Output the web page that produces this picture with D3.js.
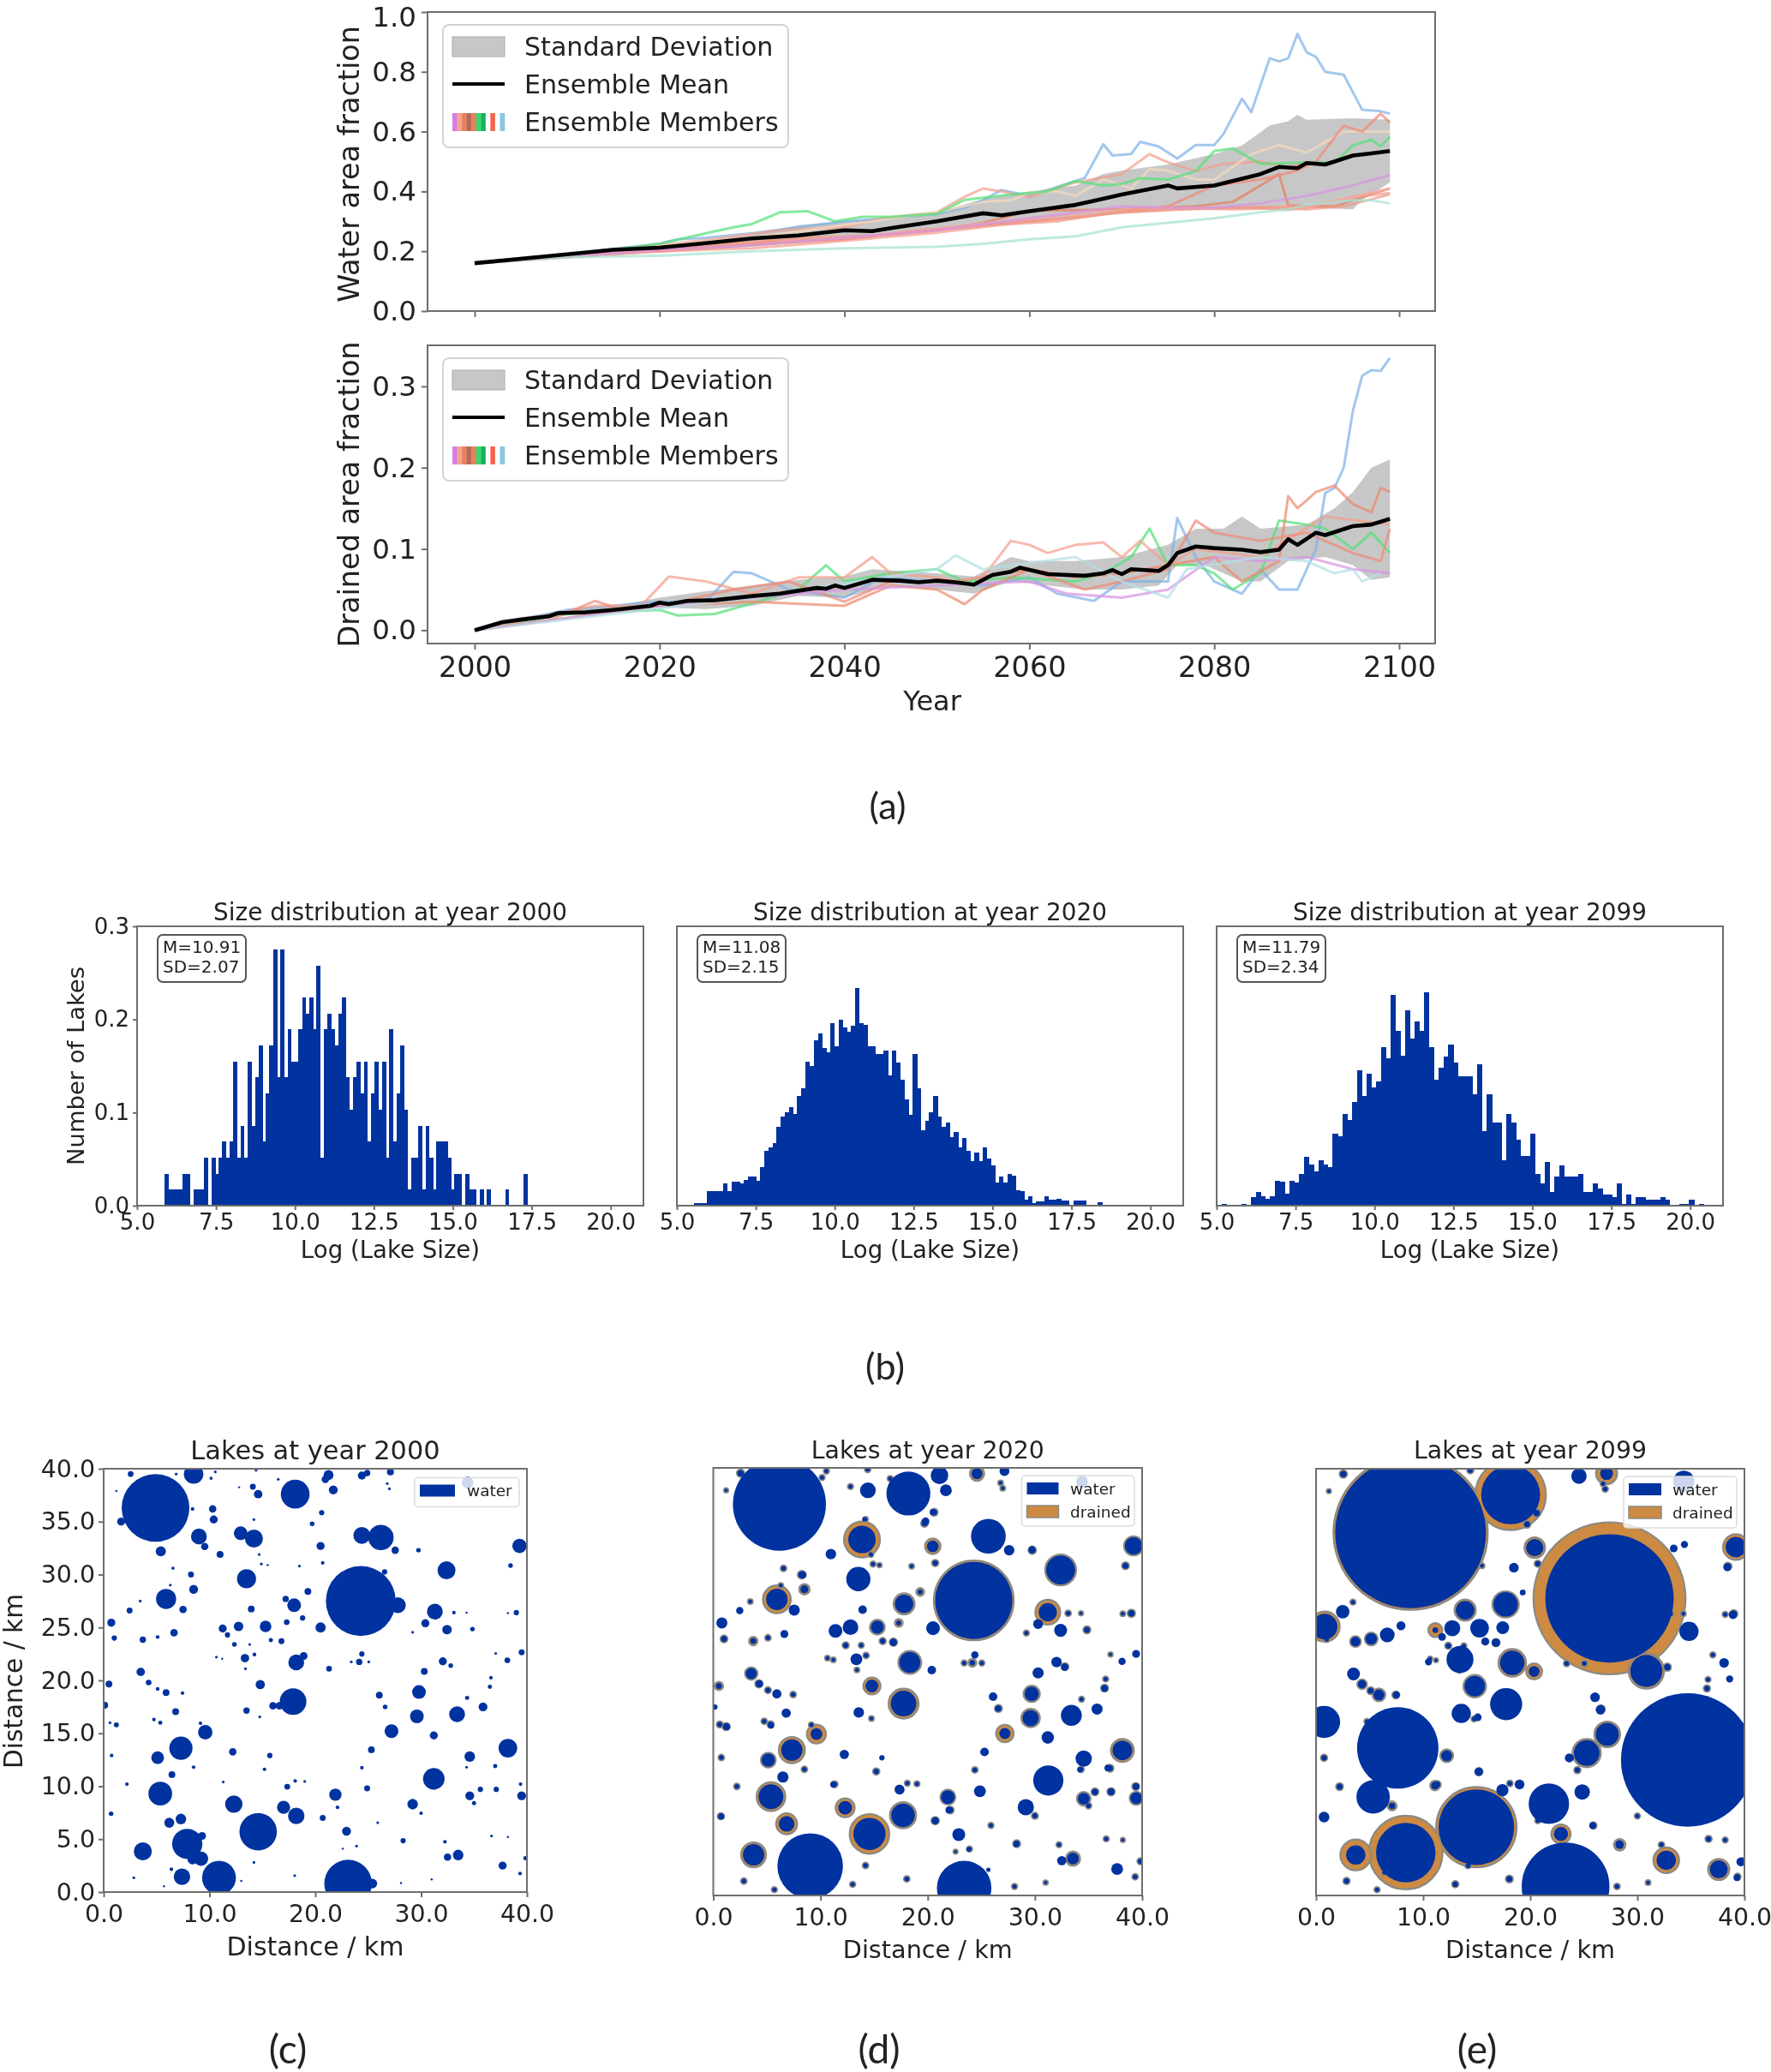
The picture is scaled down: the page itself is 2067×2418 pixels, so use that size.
<!DOCTYPE html>
<html><head><meta charset="utf-8"><title>Lake ensemble</title>
<script src="https://cdn.jsdelivr.net/npm/d3@7/dist/d3.min.js"></script>
<style>html,body{margin:0;background:#fff}svg{display:block}text{font-family:"DejaVu Sans",sans-serif;fill:#222}</style>
</head><body><svg id="c" width="2067" height="2418"></svg>
<script>
// ---------- panel (a) data: [year, value]
const waterMean=[[2000,.16],[2005,.175],[2010,.19],[2015,.205],[2020,.212],[2025,.227],[2030,.243],[2035,.253],[2040,.27],[2043,.267],[2045,.277],[2050,.30],[2055,.327],[2057,.32],[2060,.334],[2065,.355],[2070,.39],[2075,.42],[2076,.41],[2080,.42],[2085,.458],[2087,.482],[2089,.478],[2090,.495],[2092,.49],[2095,.52],[2097,.527],[2099,.535]];
const waterUpper=[[2000,.16],[2010,.195],[2020,.215],[2030,.255],[2035,.287],[2040,.30],[2050,.33],[2055,.375],[2060,.40],[2065,.42],[2068,.458],[2070,.47],[2075,.49],[2080,.525],[2083,.554],[2086,.62],[2088,.635],[2089,.656],[2090,.64],[2095,.645],[2099,.64]];
const waterLower=[[2000,.16],[2010,.19],[2020,.195],[2030,.215],[2040,.24],[2050,.27],[2055,.285],[2060,.295],[2065,.315],[2070,.33],[2075,.34],[2080,.339],[2085,.34],[2088,.334],[2090,.345],[2095,.34],[2096,.372],[2099,.43]];
const waterMembers=[
 {c:"#7fb2e8",v:[[2000,.16],[2010,.19],[2020,.225],[2022,.24],[2025,.245],[2030,.26],[2040,.30],[2045,.31],[2050,.325],[2053,.345],[2055,.37],[2057,.405],[2060,.385],[2065,.435],[2066,.445],[2068,.558],[2069,.52],[2071,.525],[2072,.566],[2074,.55],[2076,.51],[2078,.555],[2080,.555],[2081,.592],[2083,.71],[2084,.665],[2086,.845],[2087,.835],[2088,.845],[2089,.927],[2090,.865],[2091,.85],[2092,.80],[2094,.79],[2096,.673],[2098,.668],[2099,.66]]},
 {c:"#f2a08e",v:[[2000,.16],[2005,.178],[2012,.195],[2020,.22],[2027,.245],[2033,.27],[2040,.28],[2044,.31],[2050,.33],[2053,.382],[2055,.41],[2057,.40],[2060,.382],[2065,.43],[2070,.458],[2073,.525],[2075,.497],[2078,.468],[2081,.492],[2085,.50],[2088,.478],[2090,.50]]},
 {c:"#f5d9bf",v:[[2000,.16],[2030,.245],[2050,.33],[2055,.365],[2058,.37],[2060,.395],[2063,.40],[2065,.385],[2068,.44],[2071,.41],[2073,.475],[2075,.47],[2078,.44],[2080,.44],[2084,.525],[2087,.555],[2090,.53],[2094,.60],[2097,.60],[2099,.60]]},
 {c:"#55e078",v:[[2000,.16],[2015,.205],[2020,.225],[2025,.26],[2028,.28],[2030,.291],[2033,.33],[2036,.334],[2039,.30],[2042,.315],[2045,.315],[2050,.325],[2053,.372],[2058,.39],[2062,.40],[2065,.435],[2068,.42],[2070,.425],[2072,.444],[2075,.44],[2078,.468],[2080,.535],[2082,.544],[2085,.492],[2090,.497],[2093,.497],[2095,.554],[2097,.573],[2098,.55],[2099,.583]]},
 {c:"#e8805f",v:[[2000,.16],[2020,.205],[2028,.225],[2034,.235],[2040,.24],[2046,.26],[2050,.27],[2055,.295],[2060,.335],[2070,.34],[2078,.35],[2082,.365],[2085,.42],[2087,.458],[2088,.353],[2090,.35],[2093,.35],[2096,.38],[2099,.41]]},
 {c:"#f08a78",v:[[2000,.16],[2020,.20],[2030,.222],[2040,.24],[2048,.27],[2060,.30],[2066,.315],[2075,.35],[2080,.42],[2085,.44],[2089,.47],[2091,.50],[2094,.62],[2096,.60],[2098,.66],[2099,.63]]},
 {c:"#f59c8c",v:[[2000,.16],[2020,.20],[2030,.21],[2040,.235],[2050,.262],[2060,.30],[2070,.33],[2080,.345],[2090,.35],[2095,.38],[2099,.395]]},
 {c:"#f7a9a0",v:[[2000,.16],[2020,.205],[2032,.235],[2040,.245],[2050,.275],[2060,.31],[2072,.345],[2082,.34],[2090,.345],[2096,.39],[2099,.41]]},
 {c:"#ef9a86",v:[[2000,.16],[2015,.195],[2025,.215],[2035,.245],[2045,.255],[2055,.285],[2063,.30],[2068,.325],[2076,.34],[2084,.345],[2090,.34],[2094,.35],[2099,.39]]},
 {c:"#d796e2",v:[[2000,.16],[2020,.205],[2030,.22],[2040,.245],[2050,.27],[2060,.31],[2070,.35],[2075,.345],[2080,.345],[2085,.36],[2090,.385],[2095,.42],[2099,.455]]},
 {c:"#a6e2d2",v:[[2000,.16],[2010,.18],[2020,.185],[2030,.20],[2040,.21],[2050,.215],[2055,.225],[2060,.24],[2065,.25],[2070,.28],[2075,.295],[2080,.31],[2085,.33],[2088,.34],[2090,.355],[2095,.37],[2097,.37],[2099,.36]]}
];
const drainMean=[[2000,0],[2003,.01],[2005,.013],[2008,.017],[2009,.021],[2012,.022],[2015,.025],[2019,.03],[2020,.034],[2021,.032],[2023,.036],[2026,.037],[2030,.042],[2033,.045],[2037,.052],[2038,.051],[2039,.055],[2040,.052],[2043,.062],[2046,.061],[2048,.059],[2050,.061],[2052,.059],[2054,.056],[2056,.068],[2058,.072],[2059,.077],[2062,.069],[2066,.067],[2068,.07],[2069,.074],[2070,.069],[2071,.075],[2074,.073],[2075,.08],[2076,.095],[2078,.103],[2080,.101],[2083,.099],[2085,.096],[2087,.099],[2088,.112],[2089,.105],[2091,.12],[2092,.117],[2095,.128],[2097,.13],[2099,.137]];
const drainUpper=[[2000,0],[2005,.016],[2010,.025],[2015,.03],[2020,.04],[2025,.048],[2030,.055],[2035,.062],[2040,.066],[2043,.075],[2050,.07],[2054,.066],[2058,.09],[2060,.085],[2065,.085],[2070,.09],[2075,.105],[2078,.125],[2081,.125],[2083,.14],[2085,.125],[2090,.13],[2093,.15],[2095,.17],[2097,.2],[2099,.21]];
const drainLower=[[2000,0],[2005,.012],[2010,.019],[2015,.021],[2020,.028],[2025,.026],[2030,.03],[2035,.042],[2040,.04],[2045,.055],[2050,.05],[2054,.045],[2058,.06],[2062,.055],[2066,.05],[2070,.05],[2074,.055],[2076,.08],[2079,.08],[2083,.06],[2085,.06],[2088,.085],[2092,.09],[2095,.08],[2097,.062],[2099,.065]];
const drainMembers=[
 {c:"#7fb2e8",v:[[2000,0],[2010,.025],[2020,.035],[2025,.035],[2028,.072],[2030,.07],[2034,.05],[2040,.04],[2044,.065],[2050,.06],[2055,.055],[2060,.065],[2063,.045],[2067,.036],[2070,.06],[2075,.06],[2076,.138],[2078,.09],[2080,.06],[2082,.05],[2083,.045],[2085,.075],[2087,.05],[2089,.05],[2091,.10],[2092,.169],[2093,.175],[2094,.20],[2095,.27],[2096,.313],[2097,.32],[2098,.319],[2099,.335]]},
 {c:"#55e078",v:[[2000,0],[2010,.02],[2020,.025],[2022,.018],[2026,.02],[2030,.033],[2035,.05],[2038,.08],[2040,.06],[2045,.07],[2050,.075],[2053,.06],[2058,.065],[2065,.06],[2068,.07],[2071,.09],[2073,.125],[2075,.08],[2078,.08],[2080,.07],[2082,.05],[2085,.07],[2087,.135],[2090,.13],[2092,.125],[2095,.10],[2097,.12],[2099,.095]]},
 {c:"#f2a08e",v:[[2000,0],[2013,.03],[2018,.03],[2021,.066],[2025,.06],[2030,.045],[2035,.065],[2040,.065],[2043,.09],[2045,.07],[2050,.065],[2054,.055],[2056,.08],[2058,.11],[2060,.105],[2062,.095],[2065,.105],[2068,.108],[2070,.09],[2072,.11],[2075,.08],[2078,.10],[2085,.09],[2092,.14],[2099,.13]]},
 {c:"#ec8a6c",v:[[2000,0],[2020,.03],[2030,.035],[2040,.03],[2045,.055],[2050,.05],[2053,.032],[2055,.05],[2060,.075],[2065,.065],[2070,.07],[2075,.08],[2080,.09],[2083,.06],[2087,.085],[2088,.165],[2089,.15],[2091,.17],[2093,.178],[2095,.155],[2097,.145],[2098,.175],[2099,.17]]},
 {c:"#f08a78",v:[[2000,0],[2008,.012],[2013,.036],[2016,.025],[2020,.03],[2028,.05],[2034,.06],[2040,.035],[2045,.06],[2052,.06],[2060,.075],[2066,.05],[2070,.06],[2075,.075],[2078,.135],[2080,.12],[2085,.11],[2090,.12],[2095,.095],[2098,.085],[2099,.125]]},
 {c:"#d796e2",v:[[2000,0],[2020,.03],[2030,.04],[2040,.05],[2050,.055],[2060,.06],[2064,.045],[2070,.04],[2075,.05],[2080,.09],[2085,.085],[2090,.09],[2095,.075],[2099,.07]]},
 {c:"#b4dfe6",v:[[2000,0],[2030,.04],[2050,.075],[2052,.092],[2055,.075],[2065,.09],[2070,.06],[2075,.04],[2077,.075],[2085,.09],[2090,.085],[2093,.07],[2095,.075],[2096,.06],[2098,.07]]}
];
const legendLabels=["Standard Deviation","Ensemble Mean","Ensemble Members"];
const stripeColors=["#d87be6","#f3a58e","#e8805f","#b46a58","#e8805f","#38d86a","#17b45a","#ffffff","#f0664c","#ffffff","#8cc8e0"];
const yearTicks=[2000,2020,2040,2060,2080,2100];
// ---------- panel (b) data
const hist2000=[2,1,1,1,1,2,2,0,1,1,1,3,0,3,2,3,4,3,4,9,3,5,3,9,5,8,10,4,7,10,16,8,16,8,11,9,9,11,13,12,13,11,15,3,11,12,11,10,12,13,8,6,8,9,7,9,4,7,9,6,9,3,11,4,7,10,6,1,3,3,5,1,5,3,1,4,4,4,3,1,2,2,0,2,1,1,0,1,0,1,0,0,0,0,1,0,0,0,0,2].map(n=>n*.0172);
const hist2020=[.003,.003,.003,.0153,.0153,.0153,.0153,.0236,.0153,.0257,.0257,.0236,.028,.031,.031,.027,.041,.059,.063,.067,.085,.096,.10,.106,.0985,.118,.126,.155,.15,.178,.185,.169,.165,.196,.171,.20,.191,.187,.193,.234,.196,.194,.171,.171,.163,.163,.167,.14,.167,.154,.135,.114,.098,.163,.126,.081,.091,.10,.118,.0955,.085,.089,.074,.079,.063,.0725,.059,.048,.057,.048,.063,.051,.043,.025,.031,.025,.034,.032,.017,.016,.006,.01,.003,.005,.005,.01,.006,.006,.007,.0055,.0055,.001,.0055,.0055,.0055,.001,0,0,.004,.001];
const hist2099=[.002,0,0,0,.002,0,.009,.015,.01,.007,.01,.027,.026,.013,.027,.025,.034,.052,.044,.037,.049,.044,.041,.077,.075,.0985,.092,.111,.145,.118,.142,.127,.133,.17,.158,.226,.188,.161,.21,.179,.198,.188,.229,.17,.135,.148,.16,.173,.154,.139,.139,.139,.12,.152,.08,.12,.089,.089,.049,.0985,.089,.071,.053,.053,.077,.034,.024,.047,.015,.031,.043,.031,.031,.031,.034,.015,.015,.024,.018,.012,.012,.009,.024,.002,.012,.002,.009,.009,.006,.006,.006,.009,.006,0,0,.002,.002,.006,.001,.002];
const histRanges=[[5.86,17.35],[5.55,18.6],[5.17,20.42]];
const histYears=[2000,2020,2099];
const histNotes=[["M=10.91","SD=2.07"],["M=11.08","SD=2.15"],["M=11.79","SD=2.34"]];
const histXTicks=[5,7.5,10,12.5,15,17.5,20];
const histYTicks=[0,.1,.2,.3];
// ---------- panels (c,d,e) data: [x km, y km, water r km, drained r km]
const lakes2000=[[4.9,36.3,3.2],[24.3,27.5,3.3],[23.1,.8,2.25],[14.6,5.7,1.77],[10.9,1.35,1.6],[7.9,4.55,1.43],[18.1,37.6,1.36],[17.9,18,1.26],[26.2,33.5,1.2],[24.4,33.7,.8],[31.2,10.7,1.02],[7.3,13.6,1.1],[5.35,9.3,1.12],[38.2,13.6,.88],[32.4,30.4,.85],[31.3,26.5,.75],[33.4,16.8,.75],[27.8,27.1,.75],[27.2,15.2,.65],[29.8,18.9,.65],[29.6,16.6,.65],[39.3,32.7,.68],[13.5,29.6,.9],[5.9,27.7,.95],[14.2,33.4,.85],[12.95,33.9,.65],[9,33.6,.75],[8.5,39.5,.92],[12.3,8.3,.82],[18.2,7.2,.78],[17,8,.62],[18.2,21.7,.75],[18.9,22.3,.37],[18,27.1,.65],[9.6,15.1,.68],[3.7,3.85,.85],[7.4,1.45,.78],[9.2,3.15,.68],[8.4,3.1,.48],[9.3,5.3,.37],[7.3,6.9,.5],[6.2,6.55,.47],[5.1,12.7,.6],[21.9,9.2,.58],[29.2,8.3,.5],[33.5,3.5,.5],[34.6,12.8,.5],[34.6,9.1,.42],[35.85,17.5,.42],[32.45,24.8,.45],[30.4,25.4,.38],[21.25,39.4,.47],[20.95,39,.35],[24.4,39.35,.38],[24.9,39.6,.3],[27.1,39.7,.33],[14.1,38.3,.28],[14.6,37.6,.4],[21.7,38,.42],[10.3,36.2,.35],[10.4,35.2,.38],[1.65,35,.38],[9.55,32.65,.35],[5.4,32.2,.48],[11,31.9,.33],[20.5,32.7,.38],[27.55,32.3,.35],[26.55,30.25,.25],[8.5,28.6,.42],[19.3,28.4,.32],[7.5,26.7,.35],[13.95,26.75,.32],[2.45,26.6,.28],[17.2,27.7,.3],[.72,25.45,.38],[18.8,25.9,.25],[17.3,25.5,.27],[11.25,24.9,.38],[12.75,25.1,.45],[15.3,25.1,.55],[20.5,25,.48],[6.65,24.5,.35],[11.7,24.3,.25],[3.7,23.85,.3],[24.4,22.5,.25],[13.35,22.1,.4],[24.15,21.75,.3],[21.3,21.1,.27],[32.05,21.8,.38],[38.15,21.9,.27],[39.5,22.65,.28],[3.5,20.8,.4],[30.3,20.85,.32],[.5,19.65,.32],[14.8,19.6,.44],[5.9,18.85,.32],[26.05,18.6,.32],[.1,17.65,.32],[16,17.6,.35],[16.6,17.6,.35],[6.8,17.05,.32],[13.5,17.15,.3],[31.2,14.8,.38],[25.3,13.45,.32],[12.2,13.25,.35],[15.7,12.9,.25],[24.9,9.8,.28],[39.5,9.1,.42],[22.95,5.75,.42],[32.5,3.3,.35],[37.7,2.5,.38],[25.4,.8,.45],[34.4,38.7,.55]];
const lakes2020=[[6.17,36.6,4.34,4.34],[9.04,2.75,3.06,3.06],[24.3,27.6,3.6,3.72],[18.2,37.6,2.05,2.05],[23.4,.7,2.54,2.54],[25.66,33.6,1.62,1.62],[32.4,30.45,1.35,1.44],[31.25,10.76,1.41,1.41],[14.57,5.76,1.5,1.85],[17.7,7.5,1.1,1.22],[17.75,17.95,1.2,1.4],[13.87,33.3,1.28,1.68],[5.93,27.7,1,1.3],[31.2,26.5,.85,1.16],[7.33,13.6,1,1.22],[5.38,9.24,1.16,1.34],[3.76,3.8,1,1.16],[18.33,21.8,.98,1.07],[13.53,29.6,1.13,1.13],[17.8,27.28,.86,.98],[39.2,32.7,.82,.89],[29.6,16.6,.76,.86],[33.4,16.85,.98,.98],[38.16,13.57,.92,1.07],[29.7,18.86,.67,.76],[34.55,12.8,.76,.76],[29.15,8.26,.76,.76],[34.55,9.05,.55,.64],[39.45,9.1,.55,.61],[21.88,9.2,.64,.7],[12.3,8.2,.64,.89],[6.84,6.7,.73,.98],[9.62,15.1,.55,.89],[27.2,15.15,.52,.82],[14.8,19.6,.6,.8],[24.87,9.75,.55,.55],[22.9,5.7,.6,.6],[33.55,3.45,.55,.67],[32.5,3.26,.43,.43],[37.67,2.47,.55,.55],[21.7,37.9,.55,.55],[21.1,39.3,.82,.82],[24.6,39.46,.52,.67],[27.16,39.7,.46,.46],[14.42,37.9,.73,.73],[27.6,32.3,.49,.49],[20.47,32.66,.55,.73],[29.73,32.34,.34,.34],[10.97,31.93,.49,.49],[20.5,25,.64,.64],[12.8,25.1,.73,.73],[11.4,24.75,.64,.64],[15.3,25.1,.6,.7],[30.3,25.4,.46,.46],[32.4,24.8,.6,.6],[.8,25.5,.52,.52],[7.55,26.7,.52,.52],[8.5,28.64,.37,.49],[13.93,26.74,.4,.4],[19.3,28.4,.24,.37],[17.3,25.5,.24,.37],[2.47,26.65,.34,.34],[13.35,22.1,.55,.55],[6.63,24.46,.37,.37],[3.73,23.8,.28,.4],[16.8,23.67,.34,.34],[24.4,22.5,.34,.34],[24.17,21.77,.25,.37],[20.38,21.08,.4,.4],[30.3,20.82,.52,.52],[32.02,21.83,.49,.49],[32.78,21.36,.34,.34],[38.13,21.9,.34,.34],[39.44,22.6,.37,.37],[3.54,20.76,.52,.58],[4.3,19.8,.34,.34],[.52,19.6,.28,.4],[5.93,18.86,.43,.43],[26.1,18.6,.4,.4],[36.5,19.37,.31,.31],[35.8,17.44,.52,.52],[26.55,17.47,.28,.28],[.15,17.63,.25,.25],[6.8,17.06,.43,.43],[13.57,17.12,.49,.49],[31.2,14.78,.58,.58],[1.25,15.8,.31,.31],[5.38,15.9,.28,.28],[12.22,13.2,.43,.43],[25.3,13.42,.4,.4],[15.73,12.88,.25,.25],[5.13,12.66,.62,.7],[6.5,11.08,.52,.52],[36.8,11.93,.31,.31],[34.2,11.77,.25,.25],[11.2,10.38,.28,.28],[17.38,9.9,.46,.46],[37.1,9.7,.31,.31],[35.6,9.68,.28,.28],[39.44,10.2,.31,.31],[.76,7.4,.28,.28],[21.97,8,.31,.31],[20.7,7,.34,.34],[28.26,4.8,.28,.28],[23.83,4.3,.22,.22],[34.4,38.7,.55,.55],[8.35,30,.34,.34],[19.8,35,.36,.36],[20.5,35.85,.3,.3],[14.1,35.2,.2,.2],[25.66,2.4,.2,.2]];
const lakes2099=[[8.83,34,7.04,7.2],[18.17,37.56,2.75,3.3],[27.4,27.85,5.99,7.1],[34.7,12.7,6.23,6.23],[23.3,.85,4.1,4.1],[7.63,13.83,3.8,3.8],[14.97,6.4,3.53,3.75],[8.38,4.02,2.78,3.44],[21.74,8.6,1.89,1.89],[5.33,9.24,1.56,1.56],[.75,16.27,1.5,1.5],[30.84,21.04,1.5,1.65],[17.75,17.94,1.5,1.5],[18.32,21.8,1.14,1.29],[13.44,22.12,1.26,1.26],[17.7,27.28,1.14,1.23],[39.2,32.66,.96,1.2],[.8,25.2,1.2,1.41],[25.27,13.35,1.2,1.32],[27.19,15.1,1.08,1.2],[34.82,24.75,.9,.9],[20.42,32.6,.81,.96],[14.82,19.62,.96,1.05],[13.92,26.74,.87,.99],[3.71,3.8,.9,1.44],[13.56,17.06,.9,.9],[15.27,25.06,.87,.87],[12.72,25.06,.75,.75],[24.55,39.3,.72,.72],[27.13,39.55,.6,.99],[34.34,38.83,.99,.99],[32.7,3.3,.9,1.2],[37.6,2.44,.84,.99],[22.87,5.76,.66,.9],[24.85,9.7,.72,.72],[39.67,3.16,.42,.42],[26.05,18.58,.45,.45],[26.56,17.4,.45,.45],[20.36,21,.51,.75],[11.14,24.87,.27,.66],[2.49,26.6,.63,.63],[6.65,24.43,.69,.69],[5.15,24.05,.54,.6],[3.68,23.8,.45,.5],[3.5,20.76,.6,.6],[5.87,18.8,.51,.6],[12.2,13.1,.51,.6],[17.43,25.1,.6,.6],[17.4,9.87,.57,.57],[19,10.4,.45,.45],[15.2,11.6,.39,.39],[25.84,6.55,.33,.33],[28.35,4.75,.39,.54],[.75,7.34,.5,.5],[39.3,1.65,.3,.3],[38.4,30.76,.36,.36],[38.1,21.8,.45,.45],[33.4,32.53,.36,.36],[18.47,30.73,.45,.45],[7.93,25.28,.42,.42],[11.77,24.24,.36,.36],[38.92,26.3,.39,.39],[16.8,23.7,.39,.39],[15.8,23.8,.36,.36],[38.62,20.3,.33,.33],[23.65,12.9,.42,.42],[34.4,32.9,.33,.33],[19.3,28.4,.27,.27],[10.5,21.9,.33,.33],[4.3,19.8,.39,.45],[7.5,18.8,.33,.33],[15.1,16.7,.36,.36],[11.1,10.3,.36,.45],[7.1,8.4,.3,.42]];
// tiny lakes at fixed places: [x km, y km, r 2000, r 2020, r 2099]
const smallLakes=[[2.55,39.5,.27,.3,.3],[6.85,39.5,.13,.2,.2],[10.15,39.1,.15,.2,.2],[10.55,39.7,.13,.2,.2],[14.4,39.85,.13,.22,.25],[26.8,38.6,.13,.18,.2],[27,38.1,.13,.18,.22],[16.5,39,.13,.2,.2],[1.2,37.9,.1,.15,.15],[12.8,38.25,.1,.2,.2],[8.4,36.2,.17,.2,.2],[14.2,35.2,.13,.18,.2],[19.7,34.8,.22,.27,.28],[20.6,35.85,.25,.28,.3],[14.7,31.9,.13,.2,.22],[14.9,31,.13,.2,.2],[15.5,30.9,.1,.16,.18],[18.5,30.8,.13,.18,.2],[20.7,31.1,.17,.25,.25],[29.75,32.3,.22,.3,.3],[38.45,30.85,.22,.28,.3],[6.55,30.6,.15,.22,.2],[8.25,30,.28,.32,.3],[6.3,29,.13,.18,.2],[3.45,27.5,.13,.18,.2],[33.1,26.4,.17,.22,.22],[34.3,26.4,.1,.15,.18],[39,26.4,.25,.3,.3],[38.2,26.35,.1,.18,.2],[34.85,24.85,.22,.28,.28],[29.2,24.55,.13,.2,.2],[1,24,.25,.28,.2],[5.1,24.1,.18,.22,.22],[12.35,23.4,.22,.25,.25],[13.8,23.4,.13,.2,.2],[16.8,23.7,.28,.3,.3],[15.8,23.8,.2,.25,.25],[14.25,22.45,.18,.22,.22],[10.65,22.2,.13,.18,.16],[11.2,22.05,.1,.18,.15],[23.4,21.75,.13,.2,.22],[25.05,21.75,.13,.2,.22],[13.4,21.1,.13,.18,.2],[32.8,21.4,.22,.28,.3],[37.05,22.55,.13,.16,.2],[4.25,19.8,.27,.3,.3],[5.1,19.2,.18,.24,.28],[7.45,18.8,.17,.22,.28],[36.5,19.4,.2,.28,.25],[36.6,20.25,.17,.2,.2],[34.35,18.35,.2,.2,.22],[26.6,17.5,.22,.28,.3],[14.75,16.55,.13,.18,.2],[4.75,16.3,.17,.22,.2],[5.35,16,.2,.26,.2],[.6,16,.13,.24,.2],[1.2,15.8,.24,.3,.2],[9.15,15.95,.17,.2,.2],[24.4,11.75,.17,.22,.25],[37,11.9,.2,.28,.25],[34.3,11.8,.13,.22,.2],[15.2,11.6,.17,.25,.3],[8.5,11.8,.17,.22,.15],[.75,12.9,.17,.22,.25],[6.45,11.1,.32,.35,.2],[2.2,10.2,.17,.22,.28],[17.35,9.95,.28,.3,.3],[18.1,10.5,.17,.2,.22],[19,10.45,.13,.2,.3],[11.3,10.4,.13,.25,.3],[37.1,9.7,.25,.3,.2],[35.6,9.7,.25,.28,.2],[39.4,10.2,.17,.28,.2],[35,8.4,.2,.22,.2],[30,7.45,.17,.24,.2],[22.1,8,.17,.28,.22],[.7,7.4,.22,.25,.3],[20.7,7,.28,.3,.2],[25.9,6.55,.13,.2,.25],[28.3,4.85,.25,.28,.3],[32.25,4.75,.17,.2,.22],[36.65,5.3,.13,.2,.25],[38.2,5.2,.1,.15,.2],[23.9,4.35,.13,.2,.2],[22.6,4.1,.1,.15,.15],[14.2,2.8,.13,.22,.22],[6.4,2.15,.17,.2,.2],[2.85,1.35,.13,.22,.25],[18.05,1.55,.13,.22,.28],[39.35,1.75,.17,.22,.25],[39.85,3.2,.2,.25,.25],[13,1.05,.1,.2,.25],[5.7,.55,.1,.2,.2],[28.1,.85,.1,.2,.22],[31,1.2,.1,.16,.18]];
const mapTicksX=[0,10,20,30,40],mapTicksY=[0,5,10,15,20,25,30,35,40];
const captions=[["(a)",1036,939,43],["(b)",1033,1593,43],["(c)",336,2390,46],["(d)",1026,2390,46],["(e)",1724,2390,46]];
const WATER="#0033a0",DRAIN="#cd8a42",EDGE="#8a8a84",FRAME="#6e6e6e";

const svg=d3.select("#c");
const defs=svg.append("defs");
defs.append("filter").attr("id","soft").attr("x","0").attr("y","0").attr("width","1").attr("height","1").attr("filterUnits","objectBoundingBox")
  .append("feGaussianBlur").attr("stdDeviation",.6);
const root=svg.append("g").attr("filter","url(#soft)");
root.append("rect").attr("width",2067).attr("height",2418).attr("fill","#fff");

function styleAxis(g,fs,tl){g.selectAll(".domain").remove();g.selectAll("line").attr("stroke",FRAME).attr("stroke-width",2);
  g.selectAll("text").style("font-size",fs+"px").attr("font-size",fs);}
function frame(x0,x1,y0,y1){root.append("rect").attr("x",x0).attr("y",y0).attr("width",x1-x0).attr("height",y1-y0).attr("fill","none").attr("stroke",FRAME).attr("stroke-width",2);}
function vLabel(t,x,y,fs){root.append("text").attr("transform",`translate(${x},${y}) rotate(-90)`).attr("text-anchor","middle").attr("dominant-baseline","central").attr("font-size",fs).text(t);}
function cLabel(t,x,y,fs,fam){const n=root.append("text").attr("x",x).attr("y",y).attr("text-anchor","middle").attr("dominant-baseline","central").attr("font-size",fs).text(t);if(fam)n.style("font-family",fam);return n;}

// ---- time series panels
const xYear=d3.scaleLinear().domain([2000,2100]).range([554,1633]);
function tsPanel(o){
  const y=d3.scaleLinear().domain(o.domain).range([o.y1,o.y0]);
  const cid="clip"+o.y0;
  defs.append("clipPath").attr("id",cid).append("rect").attr("x",499).attr("y",o.y0).attr("width",1176).attr("height",o.y1-o.y0);
  const g=root.append("g").attr("clip-path",`url(#${cid})`);
  const line=d3.line().x(d=>xYear(d[0])).y(d=>y(d[1]));
  const poly=o.upper.concat(o.lower.slice().reverse());
  g.append("path").attr("d","M"+poly.map(d=>xYear(d[0])+","+y(d[1])).join("L")+"Z").attr("fill","#7a7a7a").attr("fill-opacity",.42);
  o.members.forEach(m=>g.append("path").attr("d",line(m.v)).attr("fill","none").attr("stroke",m.c).attr("stroke-width",3).attr("opacity",.72).attr("stroke-linejoin","round"));
  g.append("path").attr("d",line(o.mean)).attr("fill","none").attr("stroke","#000").attr("stroke-width",4.6).attr("stroke-linejoin","round");
  frame(499,1675,o.y0,o.y1);
  const ax=root.append("g").attr("transform",`translate(0,${o.y1})`).call(d3.axisBottom(xYear).tickValues(yearTicks).tickSize(7).tickPadding(8).tickFormat(o.xLabels?d3.format("d"):""));
  styleAxis(ax,33.5);
  const ay=root.append("g").attr("transform","translate(499,0)").call(d3.axisLeft(y).tickValues(o.yTicks).tickSize(7).tickPadding(6).tickFormat(d3.format(".1f")));
  styleAxis(ay,32.5);
  // keep the topmost tick label's box inside the page
  ay.selectAll("text").filter(d=>y(d)<25).attr("dy","0.5em");
  vLabel(o.label,407,(o.y0+o.y1)/2+(o.labelShift||0),o.labelSize);
  const L=root.append("g");
  L.append("rect").attr("x",517).attr("y",o.y0+15).attr("width",403).attr("height",143).attr("rx",7).attr("fill","#fff").attr("fill-opacity",.8).attr("stroke","#d4d4d4").attr("stroke-width",2);
  L.append("rect").attr("x",528).attr("y",o.y0+29).attr("width",61).attr("height",23).attr("fill","#7a7a7a").attr("fill-opacity",.42).attr("stroke","#aaa");
  L.append("line").attr("x1",528).attr("x2",589).attr("y1",o.y0+84).attr("y2",o.y0+84).attr("stroke","#000").attr("stroke-width",4);
  stripeColors.forEach((c,i)=>L.append("rect").attr("x",528+i*61/stripeColors.length).attr("y",o.y0+118).attr("width",61/stripeColors.length+.3).attr("height",21).attr("fill",c));
  legendLabels.forEach((t,i)=>L.append("text").attr("x",612).attr("y",o.y0+40+i*44).attr("dominant-baseline","central").attr("font-size",30.1).text(t));
}
tsPanel({y0:14,y1:363,domain:[0,1],yTicks:[0,.2,.4,.6,.8,1],members:waterMembers,mean:waterMean,upper:waterUpper,lower:waterLower,label:"Water area fraction",labelSize:33.4,labelShift:3,xLabels:false});
tsPanel({y0:403,y1:751,domain:[-.0164,.3505],yTicks:[0,.1,.2,.3],members:drainMembers,mean:drainMean,upper:drainUpper,lower:drainLower,label:"Drained area fraction",labelSize:33.5,labelShift:0,xLabels:true});
cLabel("Year",1088,818,32);

// ---- histograms
[hist2000,hist2020,hist2099].forEach((h,i)=>{
  const left=[160,790,1420][i],right=left+591,top=1081,bot=1407;
  const x=d3.scaleLinear().domain([5,21.04]).range([left,right]);
  const y=d3.scaleLinear().domain([0,.3]).range([bot,top]);
  const [lo,hi]=histRanges[i],w=(hi-lo)/h.length;
  root.append("g").attr("shape-rendering","crispEdges").selectAll("rect").data(h).join("rect")
    .attr("x",(d,k)=>x(lo+k*w)).attr("width",(d,k)=>x(lo+(k+1)*w)-x(lo+k*w)+.6)
    .attr("y",d=>y(d)).attr("height",d=>bot-y(d)).attr("fill",WATER);
  frame(left,right,top,bot);
  const ax=root.append("g").attr("transform",`translate(0,${bot})`).call(d3.axisBottom(x).tickValues(histXTicks).tickSize(5).tickPadding(5).tickFormat(d3.format(".1f")));
  styleAxis(ax,26);
  if(i==0){const ay=root.append("g").attr("transform",`translate(${left},0)`).call(d3.axisLeft(y).tickValues(histYTicks).tickSize(5).tickPadding(4).tickFormat(d3.format(".1f")));styleAxis(ay,26);
    vLabel("Number of Lakes",88,1244,27.4);}
  cLabel(`Size distribution at year ${histYears[i]}`,(left+right)/2,1064,27.9);
  cLabel("Log (Lake Size)",(left+right)/2,1458,27.6);
  root.append("rect").attr("x",left+24).attr("y",1091).attr("width",103).attr("height",55).attr("rx",6).attr("fill","#fff").attr("stroke","#555").attr("stroke-width",2);
  histNotes[i].forEach((t,k)=>root.append("text").attr("x",left+30).attr("y",1105+k*23).attr("dominant-baseline","central").attr("font-size",20).text(t));
});

// ---- lake maps
function mapPanel(o){
  const x=d3.scaleLinear().domain([0,40]).range([o.x0,o.x1]);
  const y=d3.scaleLinear().domain([0,40]).range([o.y1,o.y0]);
  const kmR=r=>x(r)-x(0);
  const cid="map"+o.x0;
  defs.append("clipPath").attr("id",cid).append("rect").attr("x",o.x0).attr("y",o.y0).attr("width",o.x1-o.x0).attr("height",o.y1-o.y0);
  const g=root.append("g").attr("clip-path",`url(#${cid})`);
  if(o.drained){
    const ds=o.lakes.concat(o.small.map(d=>[d[0],d[1],d[2],d[2]+.05]));
    g.append("g").selectAll("circle").data(ds.filter(d=>d[3]>d[2])).join("circle")
      .attr("cx",d=>x(d[0])).attr("cy",d=>y(d[1])).attr("r",d=>kmR(d[3])).attr("fill",DRAIN).attr("stroke",EDGE).attr("stroke-width",2.2);
  }
  g.append("g").selectAll("circle").data(o.lakes.concat(o.small)).join("circle")
    .attr("cx",d=>x(d[0])).attr("cy",d=>y(d[1])).attr("r",d=>kmR(d[2])).attr("fill",WATER);
  frame(o.x0,o.x1,o.y0,o.y1);
  const ax=root.append("g").attr("transform",`translate(0,${o.y1})`).call(d3.axisBottom(x).tickValues(mapTicksX).tickSize(6).tickPadding(9).tickFormat(d3.format(".1f")));
  styleAxis(ax,28.4);
  if(o.yAxis){const ay=root.append("g").attr("transform",`translate(${o.x0},0)`).call(d3.axisLeft(y).tickValues(mapTicksY).tickSize(6).tickPadding(4).tickFormat(d3.format(".1f")));styleAxis(ay,28.4);
    vLabel("Distance / km",16,1962,29.6);}
  const mid=(o.x0+o.x1)/2;
  cLabel(`Lakes at year ${o.year}`,mid,1692.5,o.titleSize);
  cLabel("Distance / km",mid,o.y1+63,o.labelSize);
  const L=o.legend;
  root.append("rect").attr("x",L.x).attr("y",L.y).attr("width",L.w).attr("height",L.h).attr("rx",4).attr("fill","#fff").attr("fill-opacity",.8).attr("stroke","#dcdcdc").attr("stroke-width",1.5);
  L.items.forEach((t,i)=>{
    root.append("rect").attr("x",L.x+6).attr("y",L.y+8+i*27).attr("width",L.sw).attr("height",14).attr("fill",i?DRAIN:WATER).attr("stroke",i?EDGE:"none").attr("stroke-width",1.5);
    root.append("text").attr("x",L.tx).attr("y",L.y+15+i*27).attr("dominant-baseline","central").attr("font-size",18.5).text(t);
  });
}
mapPanel({x0:121,x1:615,y0:1714,y1:2208,year:2000,titleSize:30.4,labelSize:30,yAxis:true,drained:false,lakes:lakes2000,small:smallLakes.map(d=>[d[0],d[1],d[2]]),legend:{x:484,y:1724.5,w:122,h:34,sw:41,tx:545,items:["water"]}});
mapPanel({x0:832.5,x1:1333,y0:1713,y1:2212,year:2020,titleSize:28.4,labelSize:28.7,yAxis:false,drained:true,lakes:lakes2020,small:smallLakes.map(d=>[d[0],d[1],d[3]]),legend:{x:1192.5,y:1722,w:131.5,h:59,sw:37,tx:1249,items:["water","drained"]}});
mapPanel({x0:1536,x1:2036,y0:1714,y1:2212,year:2099,titleSize:28.4,labelSize:28.7,yAxis:false,drained:true,lakes:lakes2099,small:smallLakes.map(d=>[d[0],d[1],d[4]]),legend:{x:1895,y:1723,w:132,h:60,sw:38,tx:1952,items:["water","drained"]}});
captions.forEach(c=>cLabel(c[0],c[1],c[2],c[3],"Lato"));
</script></body></html>
